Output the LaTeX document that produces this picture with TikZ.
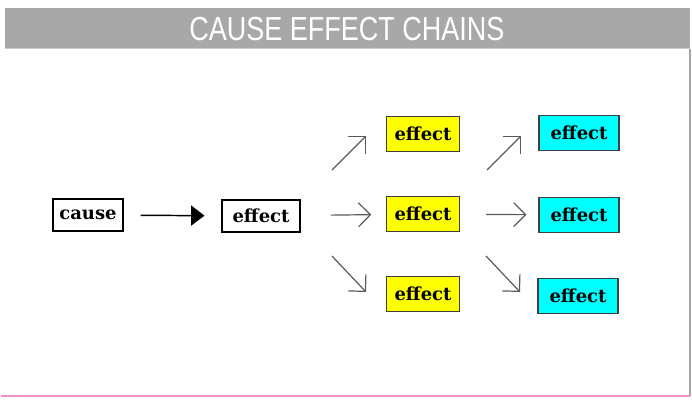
\documentclass[tikz,border=0pt]{standalone}
\usepackage{fontspec}
\usetikzlibrary{arrows.meta}
\newfontfamily\boxfont{DejaVu Serif}
\newfontfamily\titlefont{Liberation Sans}
\definecolor{bargray}{HTML}{A8A8A8}
\definecolor{arrgray}{HTML}{5A5A5A}
\definecolor{linepink}{HTML}{F090C8}
\definecolor{boxcyan}{HTML}{00FFFF}
\definecolor{boxyellow}{HTML}{FFFF00}

\begin{document}
\begin{tikzpicture}[x=0.75pt, y=-0.75pt]
    \tikzstyle{cebox}=[draw, line width=0.8pt, inner sep=0pt,
        font=\boxfont\bfseries\fontsize{13.5}{15}\selectfont]
    \tikzstyle{firstbox}=[cebox, minimum height=\sizebox]
    \tikzstyle{yelbox}=[cebox, fill=boxyellow, draw=black!75, minimum width=54.75pt, minimum height=26.25pt]
    \tikzstyle{cyanbox}=[cebox, fill=boxcyan, draw=black!75, minimum width=60pt, minimum height=26.25pt]
    \tikzstyle{thinarr}=[draw=arrgray, line width=0.9pt, -{Straight Barb[length=9pt,width=18pt]}]
    \edef\sizebox{24pt}
    \useasboundingbox (0,0) rectangle (692,403);
    % heading bar
    \fill[bargray] (5,8) rectangle (690,48);
    \draw[black!20, line width=0.8pt] (5,48.5) -- (690,48.5);
    \node[text=white, font=\titlefont\fontsize{25}{27}\selectfont, xscale=0.81] (title) at (347,29) {CAUSE EFFECT CHAINS};
    % frame
    \draw[black!35, line width=1.5pt] (690,49) -- (690,396);
    \draw[linepink, line width=1.3pt] (1,396) -- (690,396);
    % first link
    \node[firstbox, minimum width=52.5pt] (cause) at (88,215) {cause};
    \node[firstbox, minimum width=58.5pt] (e0) at (261,216) {effect};
    \draw[line width=1.1pt, -{Triangle[length=10pt,width=15pt]}, shorten <=12.75pt, shorten >=12.75pt] (cause) -- (e0);
    % second column
    \node[yelbox] (y1) at (423,134) {effect};
    \node[yelbox] (y2) at (423,214) {effect};
    \node[yelbox] (y3) at (423,294) {effect};
    % third column
    \node[cyanbox] (c1) at (579,133) {effect};
    \node[cyanbox] (c2) at (579,215) {effect};
    \node[cyanbox] (c3) at (578,296) {effect};
    % loose arrow ends
    \coordinate (u1s) at (332,170); \coordinate (u1e) at (366,136);
    \coordinate (d1s) at (332,256); \coordinate (d1e) at (366,292);
    \coordinate (u2s) at (487,170); \coordinate (u2e) at (521,136);
    \coordinate (d2s) at (486,256); \coordinate (d2e) at (520,292);
    \draw[thinarr] (u1s) -- (u1e);
    \draw[thinarr, shorten <=22.5pt, shorten >=11pt] (e0) -- (y2);
    \draw[thinarr] (d1s) -- (d1e);
    \draw[thinarr] (u2s) -- (u2e);
    \draw[thinarr, shorten <=19.5pt, shorten >=9pt] (y2) -- (c2);
    \draw[thinarr] (d2s) -- (d2e);
\end{tikzpicture}
\end{document}
